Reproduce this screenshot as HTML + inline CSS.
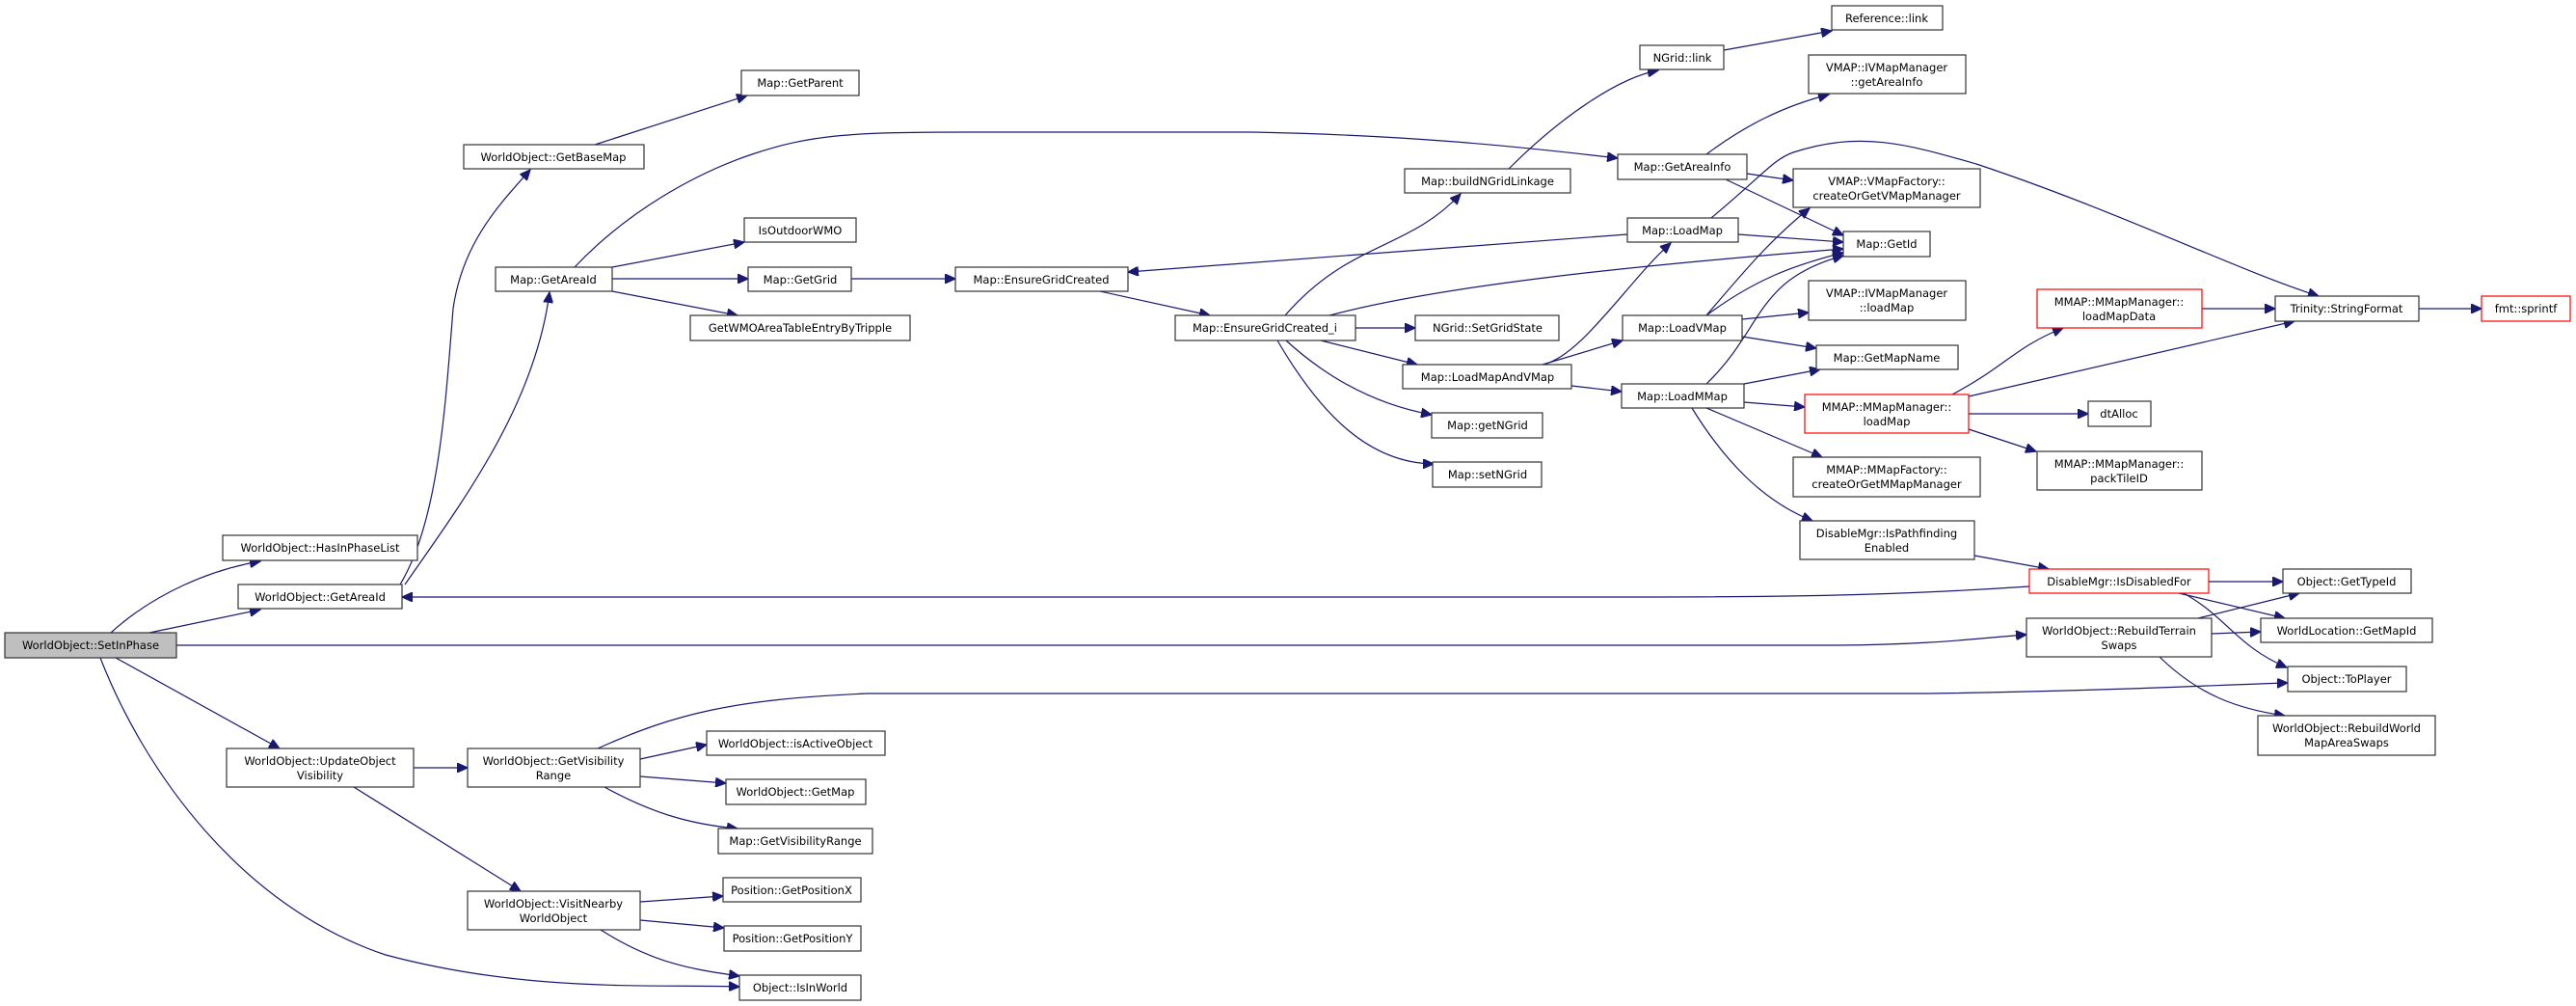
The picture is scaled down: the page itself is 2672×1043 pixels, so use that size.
<!DOCTYPE html>
<html><head><meta charset="utf-8"><style>
html,body{margin:0;padding:0;background:#fff;}
svg{display:block;}
text{font-family:"DejaVu Sans","Liberation Sans",sans-serif;font-size:11.5px;fill:#000;text-anchor:middle;}
rect{fill:#fff;stroke:#333;stroke-width:1.2;}
rect.r{stroke:#ff0000;}
path{fill:none;stroke:#191970;stroke-width:1.2;}
</style></head><body>
<svg width="2672" height="1043" viewBox="0 0 2672 1043" xmlns="http://www.w3.org/2000/svg">
<defs><marker id="a" markerWidth="12" markerHeight="10" refX="11" refY="5" orient="auto" markerUnits="userSpaceOnUse"><path d="M0,0 L11,5 L0,10 Z" style="fill:#191970;stroke:#191970"/></marker></defs>
<g marker-end="url(#a)">
<path d="M115,656 C160,615 220,590 270,582"/>
<path d="M155,656 L270,632"/>
<path d="M183,669 L1900,669 C2000,669 2060,661 2102,658"/>
<path d="M120,682 L290,776"/>
<path d="M104,682 C150,800 250,940 400,990 C550,1030 680,1020 767,1023"/>
<path d="M415,606 C455,540 462,420 470,320 C480,250 520,210 550,176"/>
<path d="M420,606 C480,520 555,420 570,303"/>
<path d="M617,150 L775,99"/>
<path d="M596,277 C650,220 720,180 780,160 C840,140 880,137 1000,137 L1300,137 C1450,140 1560,150 1678,164"/>
<path d="M635,277 L772,251"/>
<path d="M635,289 L776,289"/>
<path d="M635,302 L765,327"/>
<path d="M883,289 L991,289"/>
<path d="M1141,302 L1255,327"/>
<path d="M1688,243 L1170,282"/>
<path d="M1333,327 C1400,250 1460,260 1515,201"/>
<path d="M1379,327 C1500,295 1700,275 1912,258"/>
<path d="M1406,340 L1468,340"/>
<path d="M1370,353 L1470,378"/>
<path d="M1334,353 C1380,395 1430,420 1485,430"/>
<path d="M1325,353 C1370,430 1420,480 1487,481"/>
<path d="M1565,175 C1620,120 1680,80 1720,73"/>
<path d="M1788,52 L1900,32"/>
<path d="M1770,160 C1810,130 1850,110 1897,98"/>
<path d="M1812,180 L1860,187"/>
<path d="M1790,186 L1912,244"/>
<path d="M1775,226 C1830,180 1840,165 1860,158 C1930,135 1980,150 2050,170 C2200,220 2320,280 2405,307"/>
<path d="M1803,243 L1912,251"/>
<path d="M1600,378 C1640,370 1690,290 1733,252"/>
<path d="M1600,378 L1683,353"/>
<path d="M1630,400 L1682,406"/>
<path d="M1770,327 C1810,280 1840,245 1877,216"/>
<path d="M1770,327 C1820,290 1860,275 1912,262"/>
<path d="M1807,331 L1876,324"/>
<path d="M1807,349 L1884,361"/>
<path d="M1770,398 C1830,340 1820,290 1912,265"/>
<path d="M1809,398 L1888,383"/>
<path d="M1809,417 L1872,422"/>
<path d="M1770,423 L1890,474"/>
<path d="M1755,423 C1790,480 1830,520 1880,540"/>
<path d="M2025,409 C2080,380 2090,360 2140,340"/>
<path d="M2042,411 L2380,333"/>
<path d="M2042,429 L2166,429"/>
<path d="M2042,445 L2112,468"/>
<path d="M2284,320 L2360,320"/>
<path d="M2509,320 L2574,320"/>
<path d="M2048,576 L2125,590"/>
<path d="M2105,608 C2000,615 1900,619 1700,619 L417,619"/>
<path d="M2291,603 L2368,603"/>
<path d="M2260,615 L2370,641"/>
<path d="M2265,615 C2310,640 2320,670 2372,692"/>
<path d="M2280,641 L2385,615"/>
<path d="M2294,657 L2345,655"/>
<path d="M2240,681 C2280,720 2320,735 2370,742"/>
<path d="M620,776 C700,740 760,725 900,719 L2000,719 C2200,716 2300,710 2373,708"/>
<path d="M429,796 L485,796"/>
<path d="M367,816 L540,924"/>
<path d="M664,787 L733,772"/>
<path d="M664,805 L753,812"/>
<path d="M627,816 C680,845 720,855 765,859"/>
<path d="M664,935 L750,929"/>
<path d="M664,954 L751,962"/>
<path d="M623,964 C680,1000 720,1005 767,1012"/>
</g>
<g>
<rect x="5" y="656" width="178" height="26" style="fill:#bfbfbf"/><text x="94" y="673">WorldObject::SetInPhase</text>
<rect x="231" y="555" width="202" height="26"/><text x="332" y="572">WorldObject::HasInPhaseList</text>
<rect x="247" y="606" width="170" height="25"/><text x="332" y="623">WorldObject::GetAreaId</text>
<rect x="235" y="776" width="194" height="40"/><text x="332" y="793">WorldObject::UpdateObject</text><text x="332" y="808">Visibility</text>
<rect x="485" y="776" width="179" height="40"/><text x="574" y="793">WorldObject::GetVisibility</text><text x="574" y="808">Range</text>
<rect x="485" y="924" width="179" height="40"/><text x="574" y="941">WorldObject::VisitNearby</text><text x="574" y="956">WorldObject</text>
<rect x="733" y="758" width="185" height="25"/><text x="825" y="775">WorldObject::isActiveObject</text>
<rect x="753" y="808" width="145" height="26"/><text x="825" y="825">WorldObject::GetMap</text>
<rect x="745" y="859" width="160" height="26"/><text x="825" y="876">Map::GetVisibilityRange</text>
<rect x="750" y="910" width="143" height="25"/><text x="821" y="927">Position::GetPositionX</text>
<rect x="751" y="960" width="142" height="26"/><text x="822" y="977">Position::GetPositionY</text>
<rect x="767" y="1011" width="126" height="26"/><text x="830" y="1028">Object::IsInWorld</text>
<rect x="481" y="150" width="187" height="25"/><text x="574" y="167">WorldObject::GetBaseMap</text>
<rect x="769" y="73" width="122" height="26"/><text x="830" y="90">Map::GetParent</text>
<rect x="514" y="277" width="121" height="25"/><text x="574" y="294">Map::GetAreaId</text>
<rect x="772" y="226" width="116" height="25"/><text x="830" y="243">IsOutdoorWMO</text>
<rect x="776" y="277" width="107" height="25"/><text x="830" y="294">Map::GetGrid</text>
<rect x="716" y="327" width="228" height="26"/><text x="830" y="344">GetWMOAreaTableEntryByTripple</text>
<rect x="991" y="277" width="179" height="25"/><text x="1080" y="294">Map::EnsureGridCreated</text>
<rect x="1219" y="327" width="187" height="26"/><text x="1312" y="344">Map::EnsureGridCreated_i</text>
<rect x="1457" y="175" width="172" height="25"/><text x="1543" y="192">Map::buildNGridLinkage</text>
<rect x="1468" y="327" width="149" height="26"/><text x="1543" y="344">NGrid::SetGridState</text>
<rect x="1455" y="378" width="175" height="25"/><text x="1543" y="395">Map::LoadMapAndVMap</text>
<rect x="1485" y="428" width="115" height="26"/><text x="1543" y="445">Map::getNGrid</text>
<rect x="1486" y="479" width="113" height="26"/><text x="1543" y="496">Map::setNGrid</text>
<rect x="1701" y="47" width="87" height="25"/><text x="1745" y="64">NGrid::link</text>
<rect x="1678" y="160" width="134" height="26"/><text x="1745" y="177">Map::GetAreaInfo</text>
<rect x="1688" y="226" width="115" height="25"/><text x="1745" y="243">Map::LoadMap</text>
<rect x="1683" y="327" width="124" height="26"/><text x="1745" y="344">Map::LoadVMap</text>
<rect x="1682" y="398" width="127" height="25"/><text x="1745" y="415">Map::LoadMMap</text>
<rect x="1900" y="6" width="115" height="25"/><text x="1957" y="23">Reference::link</text>
<rect x="1876" y="57" width="163" height="40"/><text x="1957" y="74">VMAP::IVMapManager</text><text x="1957" y="89">::getAreaInfo</text>
<rect x="1860" y="175" width="194" height="40"/><text x="1957" y="192">VMAP::VMapFactory::</text><text x="1957" y="207">createOrGetVMapManager</text>
<rect x="1912" y="240" width="90" height="26"/><text x="1957" y="257">Map::GetId</text>
<rect x="1876" y="291" width="163" height="41"/><text x="1957" y="308">VMAP::IVMapManager</text><text x="1957" y="323">::loadMap</text>
<rect x="1884" y="358" width="147" height="25"/><text x="1957" y="375">Map::GetMapName</text>
<rect class="r" x="1872" y="409" width="170" height="40"/><text x="1957" y="426">MMAP::MMapManager::</text><text x="1957" y="441">loadMap</text>
<rect x="1860" y="474" width="194" height="41"/><text x="1957" y="491">MMAP::MMapFactory::</text><text x="1957" y="506">createOrGetMMapManager</text>
<rect x="1867" y="540" width="181" height="40"/><text x="1957" y="557">DisableMgr::IsPathfinding</text><text x="1957" y="572">Enabled</text>
<rect class="r" x="2105" y="590" width="186" height="25"/><text x="2198" y="607">DisableMgr::IsDisabledFor</text>
<rect x="2102" y="641" width="192" height="40"/><text x="2198" y="658">WorldObject::RebuildTerrain</text><text x="2198" y="673">Swaps</text>
<rect class="r" x="2113" y="300" width="171" height="40"/><text x="2198" y="317">MMAP::MMapManager::</text><text x="2198" y="332">loadMapData</text>
<rect x="2166" y="416" width="65" height="26"/><text x="2198" y="433">dtAlloc</text>
<rect x="2113" y="468" width="171" height="40"/><text x="2198" y="485">MMAP::MMapManager::</text><text x="2198" y="500">packTileID</text>
<rect x="2360" y="307" width="149" height="26"/><text x="2434" y="324">Trinity::StringFormat</text>
<rect class="r" x="2574" y="307" width="92" height="26"/><text x="2620" y="324">fmt::sprintf</text>
<rect x="2368" y="590" width="133" height="25"/><text x="2434" y="607">Object::GetTypeId</text>
<rect x="2345" y="641" width="178" height="25"/><text x="2434" y="658">WorldLocation::GetMapId</text>
<rect x="2373" y="691" width="123" height="26"/><text x="2434" y="708">Object::ToPlayer</text>
<rect x="2342" y="742" width="184" height="41"/><text x="2434" y="759">WorldObject::RebuildWorld</text><text x="2434" y="774">MapAreaSwaps</text>
</g>
</svg>
</body></html>
